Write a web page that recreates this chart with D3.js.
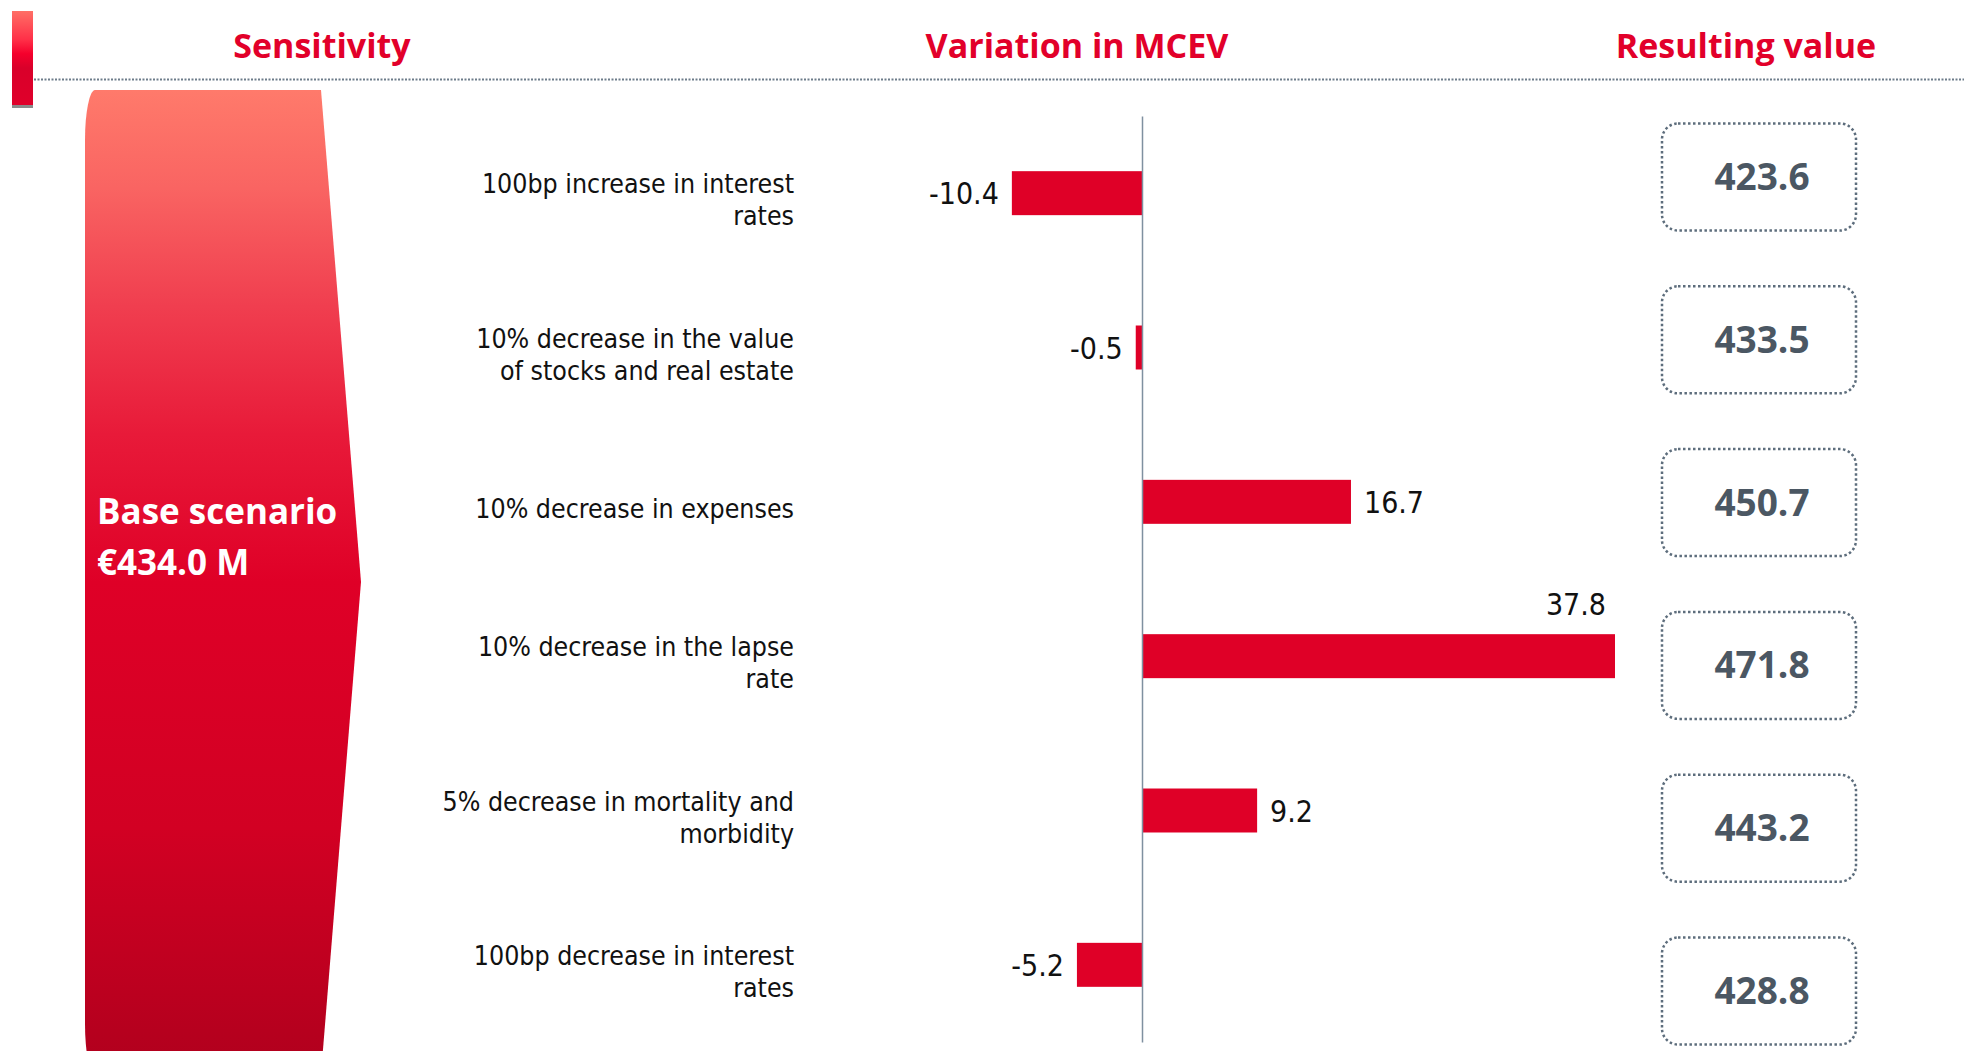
<!DOCTYPE html>
<html lang="en">
<head>
    <meta charset="UTF-8">
    <script src="https://d3js.org/d3.v7.min.js"></script>
    <title>MCEV sensitivity</title>
    <style>
        body {
            margin: 0;
            background: #fff;
        }
        .lbl {
            font-family: "DejaVu Sans Condensed", "DejaVu Sans", sans-serif;
            font-stretch: condensed;
        }
        .bold {
            font-family: "Open Sans", sans-serif;
            font-weight: bold;
        }
    </style>
</head>
<body>
<div id="chart"></div>
<script>

    // data
    var categories = [
        "100bp increase in interest\nrates",
        "10% decrease in the value\nof stocks and real estate",
        "10% decrease in expenses",
        "10% decrease in the lapse\nrate",
        "5% decrease in mortality and\nmorbidity",
        "100bp decrease in interest\nrates"
    ];
    var variations = [-10.4, -0.5, 16.7, 37.8, 9.2, -5.2];
    var resulting = [423.6, 433.5, 450.7, 471.8, 443.2, 428.8];
    var headers = ["Sensitivity", "Variation in MCEV", "Resulting value"];
    var baseLabel = ["Base scenario", "€434.0 M"];

    var W = 1964, H = 1051;
    var red = "#df0027";

    var svg = d3.select("#chart")
        .append("svg")
        .attr("width", W)
        .attr("height", H);

    var defs = svg.append("defs");

    // gradient for the big base-scenario arrow
    var g1 = defs.append("linearGradient")
        .attr("id", "baseGrad")
        .attr("gradientUnits", "userSpaceOnUse")
        .attr("x1", 0).attr("y1", 90).attr("x2", 0).attr("y2", 1074);
    [[0, "#ff7a6b"], [0.1, "#f96462"], [0.22, "#f03e4f"], [0.35, "#e81a39"],
     [0.5, "#df0027"], [0.75, "#d20023"], [1, "#b0001d"]].forEach(function(s) {
        g1.append("stop").attr("offset", s[0]).attr("stop-color", s[1]);
    });

    // gradient for the small accent bar top-left
    var g2 = defs.append("linearGradient")
        .attr("id", "accentGrad")
        .attr("x1", 0).attr("y1", 0).attr("x2", 0).attr("y2", 1);
    [[0, "#ff6f66"], [0.3, "#ff3048"], [0.45, "#f5002c"], [0.6, "#d9002a"], [1, "#e0002a"]].forEach(function(s) {
        g2.append("stop").attr("offset", s[0]).attr("stop-color", s[1]);
    });

    // accent bar + header rule
    svg.append("rect").attr("x", 12).attr("y", 11).attr("width", 21).attr("height", 95)
        .attr("fill", "url(#accentGrad)");
    svg.append("rect").attr("x", 12).attr("y", 105).attr("width", 21).attr("height", 3)
        .attr("fill", "#8a8a8a");
    svg.append("line")
        .attr("x1", 34).attr("x2", W).attr("y1", 79.5).attr("y2", 79.5)
        .attr("stroke", "#6d7c8a").attr("stroke-width", 2)
        .attr("stroke-dasharray", "2 1.5");

    // headers
    var headerX = [322, 1077, 1746];
    svg.selectAll(".hdr")
        .data(headers)
        .enter().append("text")
        .attr("class", "hdr bold")
        .attr("x", function(d, i) { return headerX[i]; })
        .attr("y", 58)
        .attr("text-anchor", "middle")
        .attr("font-size", 34)
        .attr("fill", "#e2002a")
        .text(function(d) { return d; });

    // base scenario arrow
    var bx = 85, btop = 90, bright = 321, tipX = 361, tipY = 582, bbot = 2 * tipY - btop;
    svg.append("path")
        .attr("d", "M" + (bx + 10) + "," + btop +
            " L" + bright + "," + btop +
            " L" + tipX + "," + tipY +
            " L" + bright + "," + bbot +
            " L" + (bx + 10) + "," + bbot +
            " A10,50 0 0 1 " + bx + "," + (bbot - 50) +
            " L" + bx + "," + (btop + 50) +
            " A10,50 0 0 1 " + (bx + 10) + "," + btop + " Z")
        .attr("fill", "url(#baseGrad)");

    svg.selectAll(".base")
        .data(baseLabel)
        .enter().append("text")
        .attr("class", "base bold")
        .attr("x", 97)
        .attr("y", function(d, i) { return 524 + i * 51; })
        .attr("font-size", 35)
        .attr("fill", "#fff")
        .text(function(d) { return d; });

    // scales
    var y = d3.scaleBand()
        .domain(categories)
        .range([116, 1042])
        .paddingInner(0.715)
        .paddingOuter(0.3575);

    var x = d3.scaleLinear()
        .domain([0, 37.8])
        .range([1142, 1615]);

    var rows = categories.map(function(c, i) {
        return { cat: c, v: variations[i], r: resulting[i] };
    });

    // bars
    svg.selectAll(".bar")
        .data(rows)
        .enter().append("rect")
        .attr("class", "bar")
        .attr("x", function(d) { return x(Math.min(0, d.v)); })
        .attr("y", function(d) { return y(d.cat); })
        .attr("width", function(d) { return Math.abs(x(d.v) - x(0)); })
        .attr("height", y.bandwidth())
        .attr("fill", red);

    // zero axis
    svg.append("g")
        .attr("transform", "translate(" + x(0) + ",0)")
        .call(d3.axisLeft(y).tickSize(0).tickSizeOuter(0).tickFormat(""))
        .call(function(g) {
            g.select(".domain").attr("stroke", "#7f90a0").attr("stroke-width", 1.5);
        });

    // value labels
    var boxLeft = 1662;
    svg.selectAll(".val")
        .data(rows)
        .enter().append("text")
        .attr("class", "val lbl")
        .attr("font-size", 30)
        .attr("fill", "#111")
        .each(function(d) {
            var t = d3.select(this);
            var cy = y(d.cat) + y.bandwidth() / 2;
            if (d.v < 0) {
                t.attr("x", x(d.v) - 13).attr("y", cy + 11).attr("text-anchor", "end");
            } else if (x(d.v) + 80 > boxLeft) {
                t.attr("x", x(d.v) - 9).attr("y", y(d.cat) - 19).attr("text-anchor", "end");
            } else {
                t.attr("x", x(d.v) + 13).attr("y", cy + 11).attr("text-anchor", "start");
            }
        })
        .text(function(d) { return d.v.toFixed(1); });

    // category labels
    svg.selectAll(".cat")
        .data(rows)
        .enter().append("text")
        .attr("class", "cat lbl")
        .attr("font-size", 26.5)
        .attr("fill", "#111")
        .attr("text-anchor", "end")
        .each(function(d) {
            var lines = d.cat.split("\n");
            var cy = y(d.cat) + y.bandwidth() / 2 + 8;
            d3.select(this).selectAll("tspan")
                .data(lines)
                .enter().append("tspan")
                .attr("x", 794)
                .attr("y", function(l, i) { return cy + 8 + (i - (lines.length - 1) / 2) * 32; })
                .text(function(l) { return l; });
        });

    // resulting value boxes
    var yb = d3.scalePoint()
        .domain(categories)
        .range([177, 991]);

    var boxW = 194, boxH = 107, boxCx = 1759;
    var boxes = svg.selectAll(".box")
        .data(rows)
        .enter().append("g")
        .attr("class", "box")
        .attr("transform", function(d) { return "translate(" + boxCx + "," + yb(d.cat) + ")"; });

    boxes.append("rect")
        .attr("x", -boxW / 2)
        .attr("y", -boxH / 2)
        .attr("width", boxW)
        .attr("height", boxH)
        .attr("rx", 16)
        .attr("fill", "none")
        .attr("stroke", "#5d6d7c")
        .attr("stroke-width", 2.5)
        .attr("stroke-dasharray", "2.5 2.5");

    boxes.append("text")
        .attr("class", "bold")
        .attr("x", 3)
        .attr("y", 13)
        .attr("text-anchor", "middle")
        .attr("font-size", 37)
        .attr("fill", "#4b5763")
        .text(function(d) { return d.r.toFixed(1); });

</script>
</body>
</html>
